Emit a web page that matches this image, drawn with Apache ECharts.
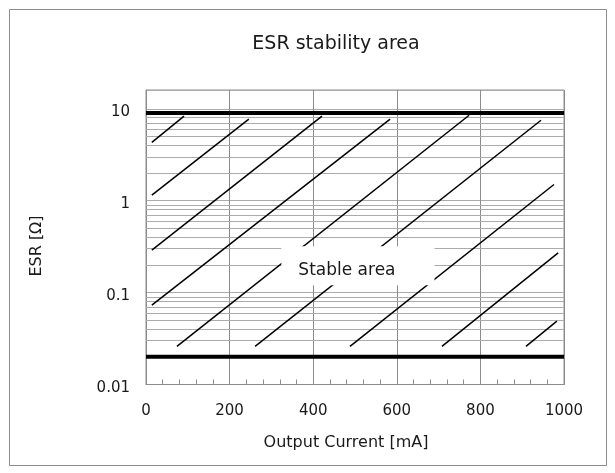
<!DOCTYPE html>
<html><head><meta charset="utf-8">
<script src="https://cdn.jsdelivr.net/npm/echarts@6/dist/echarts.min.js"></script>
<style>html,body{margin:0;padding:0;background:#fff}#c{width:615px;height:473px}</style>
</head><body><div id="c"></div>
<script>
// ---- data ----
const xTicks = [0, 200, 400, 600, 800, 1000];
const yTickLabels = ['0.01', '0.1', '1', '10'];
const minorGridY = [0.02, 0.03, 0.04, 0.05, 0.06, 0.07, 0.08, 0.09,
                    0.2, 0.3, 0.4, 0.5, 0.6, 0.7, 0.8, 0.9,
                    2, 3, 4, 5, 6, 7, 8, 9];
const limitHigh = 9;      // upper ESR limit [Ω]
const limitLow = 0.02;    // lower ESR limit [Ω]
// hatch lines: start (x0,y0) -> end (x1,y1)
const hatchX0 = [14, 14, 14, 14, 74, 261, 488, 708, 909];
const hatchY0 = [4.3, 1.15, 0.29, 0.073, 0.026, 0.026, 0.026, 0.026, 0.026];
const hatchX1 = [91, 246, 421, 584, 773, 945, 976, 986, 983];
const hatchY1 = [8.3, 7.7, 8.3, 7.7, 8.5, 7.5, 1.5, 0.27, 0.049];
const stableLabel = 'Stable area';
const stablePos = [507, 0.196];

const FONT = 'DejaVu Sans';
const TXT = '#1a1a1a';
const chart = echarts.init(document.getElementById('c'), null, {renderer: 'canvas'});

const series = [];
series.push({
  type: 'line', data: [], silent: true, z: 1,
  markLine: {
    silent: true, symbol: 'none', animation: false, label: {show: false}, z: 1,
    lineStyle: {color: '#ababab', width: 1, type: 'solid'},
    emphasis: {disabled: true},
    data: minorGridY.map(v => ({yAxis: v}))
  }
});
for (let i = 0; i < hatchX0.length; i++) {
  series.push({
    type: 'line', showSymbol: false, symbol: 'none', silent: true, z: 6,
    lineStyle: {color: '#000', width: 1.5},
    data: [[hatchX0[i], hatchY0[i]], [hatchX1[i], hatchY1[i]]]
  });
}
[limitHigh, limitLow].forEach(v => series.push({
  type: 'line', showSymbol: false, symbol: 'none', silent: true, z: 7,
  lineStyle: {color: '#000', width: 4},
  data: [[0, v], [1000, v]]
}));
series.push({
  type: 'scatter', symbolSize: 0, silent: true, z: 10,
  itemStyle: {opacity: 1},
  data: [stablePos],
  label: {
    show: true, position: 'inside', formatter: '{t|' + stableLabel + '}',
    opacity: 1, backgroundColor: '#fff', padding: [11, 39, 8, 17],
    rich: {t: {fontFamily: FONT, fontSize: 17, color: TXT, lineHeight: 20, padding: [6, 0, 0, 0]}}
  }
});

chart.setOption({
  animation: false,
  backgroundColor: '#fff',
  graphic: [
    {type: 'rect', shape: {x: 9.5, y: 9.5, width: 597, height: 456}, style: {fill: 'none', stroke: '#8c8c8c', lineWidth: 1}, z: -1},
    {type: 'text', x: 336, y: 44, style: {text: 'ESR stability area', fontFamily: FONT, fontSize: 19, fill: TXT, align: 'center', verticalAlign: 'middle'}},
    {type: 'text', x: 37, y: 246, rotation: Math.PI / 2, style: {text: 'ESR [Ω]', fontFamily: FONT, fontSize: 16, fill: TXT, align: 'center', verticalAlign: 'middle'}},
    {type: 'text', x: 346, y: 443, style: {text: 'Output Current [mA]', fontFamily: FONT, fontSize: 16, fill: TXT, align: 'center', verticalAlign: 'middle'}}
  ],
  grid: {left: 146, right: 51, top: 90, bottom: 88.5, show: true, borderColor: '#8c8c8c', borderWidth: 1, backgroundColor: 'transparent'},
  xAxis: {
    type: 'value', min: xTicks[0], max: xTicks[xTicks.length - 1], interval: 200,
    axisLine: {show: true, lineStyle: {color: '#8c8c8c'}},
    axisTick: {show: true, inside: true, length: 5, lineStyle: {color: '#8c8c8c'}},
    minorTick: {show: true, splitNumber: 5, length: 5, lineStyle: {color: '#8c8c8c'}},
    axisLabel: {fontFamily: FONT, fontSize: 15, color: TXT, margin: 19, formatter: v => String(v)},
    splitLine: {show: true, lineStyle: {color: '#8c8c8c', width: 1}}
  },
  yAxis: {
    type: 'log', logBase: 10, min: 0.01, max: 16,
    axisLine: {show: true, lineStyle: {color: '#8c8c8c'}},
    axisTick: {show: false},
    axisLabel: {
      margin: 16,
      formatter: v => {
        const l = Math.log10(v), r = Math.round(l);
        return Math.abs(l - r) < 1e-6 && r >= -2 && r <= 1 ? '{v|' + yTickLabels[r + 2] + '}' : '';
      },
      rich: {v: {fontFamily: FONT, fontSize: 15, color: TXT, padding: [7, 0, 0, 0]}}
    },
    splitLine: {show: true, lineStyle: {color: '#ababab', width: 1}}
  },
  series: series
});
</script></body></html>
